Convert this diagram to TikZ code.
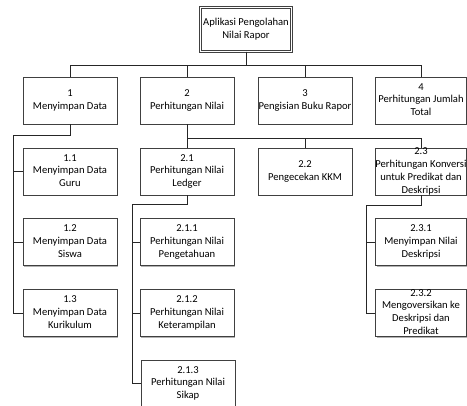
\documentclass[tikz,border=0pt]{standalone}
\usepackage{fontspec}
\setmainfont{Carlito}
\usetikzlibrary{shadows}
\newcommand\boxtext[1]{\smash{\raisebox{-2.5pt}{\makebox[0pt]{\begin{tabular}{@{}c@{}}#1\end{tabular}}}}}

\begin{document}
\begin{tikzpicture}[x=1pt,y=-1pt,
		blk/.style={draw=black!75,fill=white,line width=0.8pt,minimum width=94pt,minimum height=47pt,inner sep=0pt,font=\fontsize{10.6}{12.8}\selectfont,drop shadow={shadow xshift=1.2pt,shadow yshift=-1.2pt,fill=black!30,opacity=1}},
		edge4/.style={blk,minimum width=91pt},
		root/.style={blk,double=white,double distance=1.5pt,line width=0.7pt,minimum width=91pt,minimum height=44pt},
		conn/.style={draw=black!85,line width=0.8pt}]
		\useasboundingbox (0,0) rectangle (467,406);
		\node[root] (app) at (246,29.5) {\boxtext{Aplikasi Pengolahan\\Nilai Rapor}};
		\node[blk] (n1) at (70,100.5) {\boxtext{1\\Menyimpan Data}};
		\node[blk] (n2) at (187,100.5) {\boxtext{2\\Perhitungan Nilai}};
		\node[blk] (n3) at (305,100.5) {\boxtext{3\\Pengisian Buku Rapor}};
		\node[edge4] (n4) at (421,100.5) {\boxtext{4\\Perhitungan Jumlah\\Total}};
		\node[blk] (n11) at (70,171.5) {\boxtext{1.1\\Menyimpan Data\\Guru}};
		\node[blk] (n12) at (70,242) {\boxtext{1.2\\Menyimpan Data\\Siswa}};
		\node[blk] (n13) at (70,313) {\boxtext{1.3\\Menyimpan Data\\Kurikulum}};
		\node[blk] (n21) at (187,171.5) {\boxtext{2.1\\Perhitungan Nilai\\Ledger}};
		\node[blk] (n22) at (305,171.5) {\boxtext{2.2\\Pengecekan KKM}};
		\node[edge4] (n23) at (421,171.5) {\boxtext{2.3\\Perhitungan Konversi\\untuk Predikat dan\\Deskripsi}};
		\node[blk] (n211) at (187,242) {\boxtext{2.1.1\\Perhitungan Nilai\\Pengetahuan}};
		\node[blk] (n212) at (187,313) {\boxtext{2.1.2\\Perhitungan Nilai\\Keterampilan}};
		\node[blk] (n213) at (188,383.5) {\boxtext{2.1.3\\Perhitungan Nilai\\Sikap}};
		\node[edge4] (n231) at (421,242) {\boxtext{2.3.1\\Menyimpan Nilai\\Deskripsi}};
		\node[edge4] (n232) at (421,313) {\boxtext{2.3.2\\Mengoversikan ke\\Deskripsi dan\\Predikat}};
		\foreach \b in {n1,n2,n3,n4}
			\draw[conn] (app.south) -- ++(0,14) -| (\b.north);
		\draw[conn] (n1.south) -- ++(0,11) -| ([xshift=-9pt]n13.west) -- (n13.west);
		\foreach \b in {n11,n12}
			\draw[conn] (\b.west) -- ++(-9,0);
		\draw[conn] (n2.south) -- (n21.north);
		\foreach \b in {n22,n23}
			\draw[conn] (n2.south) ++(0,14) -| (\b.north);
		\draw[conn] (n21.south) -- ++(0,9) -| ([xshift=-8pt]n213.west) -- (n213.west);
		\foreach \b in {n211,n212}
			\draw[conn] (\b.west) -- ++(-8,0);
		\draw[conn] (n23.south) -- ++(0,10) -| ([xshift=-9pt]n232.west) -- (n232.west);
		\draw[conn] (n231.west) -- ++(-9,0);
	\end{tikzpicture}
\end{document}
